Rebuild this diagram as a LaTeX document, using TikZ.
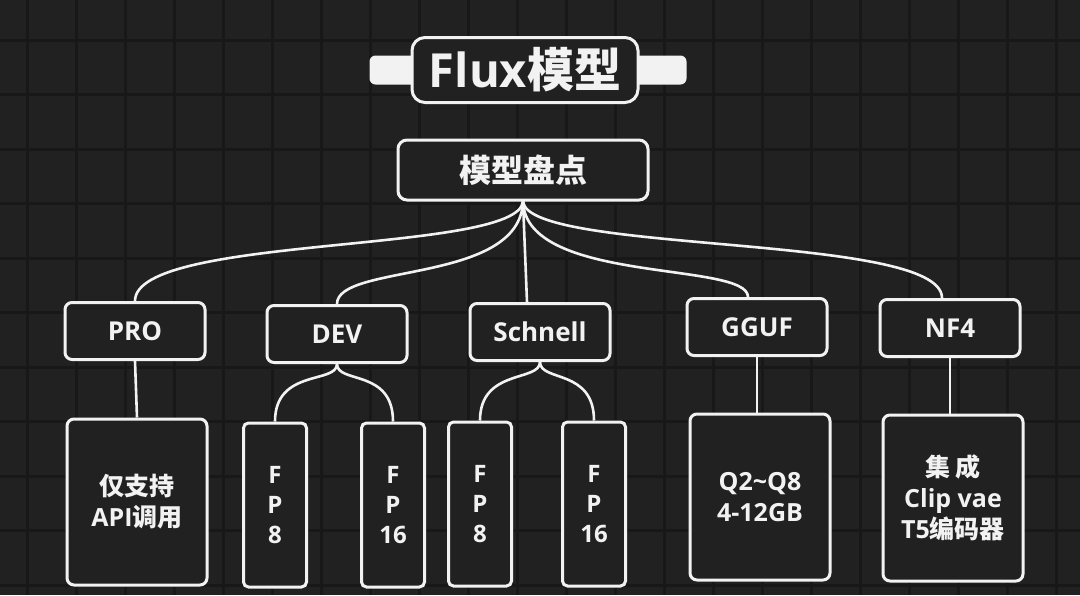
\documentclass[tikz,border=0pt]{standalone}
\usepackage{fontspec}
\setmainfont{Open Sans}
\newfontfamily\cjk{Noto Sans CJK SC}
\definecolor{boardBg}{HTML}{212121}
\definecolor{boardGrid}{HTML}{181818}
\colorlet{chalk}{white!95!black}
\tikzset{
  % blackboard look: white outlines on a dark tiled wall
  boardgrid/.style={draw=boardGrid, line width=3pt},
  card/.style={
    rounded corners=#1,
    draw=chalk,
    fill=boardBg,
    line width=3pt,
    inner sep=0pt,
    align=center,
    text=chalk
  },
  card/.default=7pt,
  titlebar/.style={
    rounded corners=6pt,
    fill=chalk,
    minimum width=317pt,
    minimum height=29pt
  },
  titlecard/.style={
    card=13pt,
    minimum width=226pt,
    minimum height=65pt,
    font=\bfseries\fontsize{47}{52}\selectfont
  },
  hubcard/.style={
    card=9pt,
    minimum width=250pt,
    minimum height=60pt,
    font=\bfseries\fontsize{32}{36}\selectfont
  },
  kindcard/.style={
    card,
    minimum width=140pt,
    minimum height=57pt,
    font=\bfseries\fontsize{26}{30}\selectfont
  },
  notecard/.style={
    card,
    minimum width=140pt,
    minimum height=166pt,
    font=\bfseries\fontsize{25}{31}\selectfont
  },
  fpcard/.style={
    card=5pt,
    minimum width=63pt,
    minimum height=164pt,
    font=\bfseries\fontsize{24}{30}\selectfont
  },
  link/.style={
    draw=chalk,
    line width=2.6pt
  }
}
\begin{document}
\begin{tikzpicture}[x=1pt,y=-1pt]
\useasboundingbox (0,0) rectangle (1080,595);
\fill[boardBg] (0,0) rectangle (1080,595);
\foreach \gx in {0,...,21}
  \draw[boardgrid] ({27+49*\gx},0) -- ++(0,595);
\foreach \gy in {0,...,10}
  \draw[boardgrid] (0,{40+54.5*\gy}) -- ++(1080,0);

\node[titlebar] (titlebar) at (528,70) {};
\node[titlecard] (title) at (525,70) {Flux{\cjk 模型}};

\node[hubcard] (hub) at (523,170) {\cjk 模型盘点};

\node[kindcard] (pro) at (135,331) {PRO};
\node[kindcard] (dev) at (337,334) {DEV};
\node[kindcard] (schnell) at (540,332) {Schnell};
\node[kindcard] (gguf) at (757,327) {GGUF};
\node[kindcard] (nf4) at (950,328) {NF4};

\node[notecard] (proapi) at (137,502) {{\cjk 仅支持}\\API{\cjk 调用}};
\node[fpcard] (dev8) at (275,505) {F\\P\\8};
\node[fpcard] (dev16) at (393,505) {F\\P\\16};
\node[fpcard] (schnell8) at (480,504) {F\\P\\8};
\node[fpcard] (schnell16) at (594,504) {F\\P\\16};
\node[notecard] (ggufsize) at (760,497) {Q2\textasciitilde Q8\\4-12GB};
\node[notecard] (nf4pack) at (953,498) {{\cjk 集 成}\\Clip vae\\T5{\cjk 编码器}};

% fan out of the hub
\draw[link] (hub.south) .. controls +(-5,53) and +(0,-67) .. (pro.north);
\draw[link] (hub.south) .. controls +(-3,83) and +(0,-41) .. (dev.north);
\draw[link] (hub.south) -- ([xshift=-13pt]schnell.north);
\draw[link] (hub.south) .. controls +(3,83) and +(0,-36) .. ([xshift=-9pt]gguf.north);
\draw[link] (hub.south) .. controls +(5,53) and +(0,-65) .. ([xshift=-8pt]nf4.north);

\draw[link] (pro.south) -- (proapi.north);
\draw[link] (dev.south) .. controls +(0,20) and +(0,-53) .. (dev8.north);
\draw[link] (dev.south) .. controls +(0,20) and +(0,-53) .. (dev16.north);
\draw[link] (schnell.south) .. controls +(0,20) and +(0,-52) .. (schnell8.north);
\draw[link] (schnell.south) .. controls +(0,20) and +(0,-52) .. (schnell16.north);
\draw[link] (gguf.south) -- (gguf.south |- ggufsize.north);
\draw[link] (nf4.south) -- (nf4.south |- nf4pack.north);

\end{tikzpicture}
\end{document}
